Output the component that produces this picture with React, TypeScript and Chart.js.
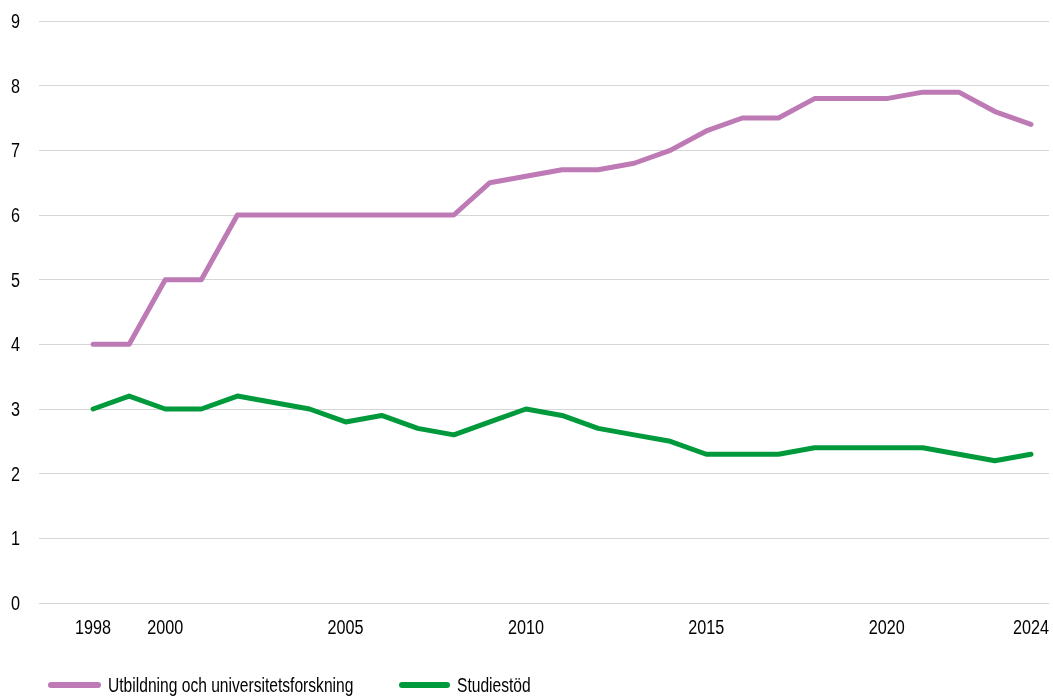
import React, { useEffect, useRef } from "react";
import { Chart, registerables } from "chart.js";

Chart.register(...registerables);

const years = [
  1998, 1999, 2000, 2001, 2002, 2003, 2004, 2005, 2006, 2007, 2008, 2009, 2010,
  2011, 2012, 2013, 2014, 2015, 2016, 2017, 2018, 2019, 2020, 2021, 2022, 2023, 2024,
];
const utbildning = [
  4, 4, 5, 5, 6, 6, 6, 6, 6, 6, 6, 6.5, 6.6, 6.7, 6.7, 6.8, 7.0, 7.3, 7.5, 7.5,
  7.8, 7.8, 7.8, 7.9, 7.9, 7.6, 7.4,
];
const studiestod = [
  3.0, 3.2, 3.0, 3.0, 3.2, 3.1, 3.0, 2.8, 2.9, 2.7, 2.6, 2.8, 3.0, 2.9, 2.7, 2.6,
  2.5, 2.3, 2.3, 2.3, 2.4, 2.4, 2.4, 2.4, 2.3, 2.2, 2.3,
];
const xTickYears = [1998, 2000, 2005, 2010, 2015, 2020, 2024];
const yTickValues = [0, 1, 2, 3, 4, 5, 6, 7, 8, 9];
const seriesNames = ["Utbildning och universitetsforskning", "Studiestöd"];
const seriesColors = ["#bd7ab5", "#009a3d"];

// Narrow look: Liberation Sans squeezed horizontally
const FONT = "'Liberation Sans', Arial, sans-serif";
const FONT_SIZE = 20;
const SQUEEZE = 0.81;
const LEGEND_SQUEEZE = 0.78;
const TEXT_COLOR = "#000000";

// Draws the axis labels in a condensed face
const narrowTicks = {
  id: "narrowTicks",
  afterDraw(chart: any) {
    const { ctx, scales, chartArea } = chart;
    ctx.save();
    ctx.fillStyle = TEXT_COLOR;
    ctx.font = `${FONT_SIZE}px ${FONT}`;
    ctx.textBaseline = "alphabetic";
    const capHalf = Math.round((FONT_SIZE * 0.716) / 2);
    // y axis
    ctx.textAlign = "right";
    for (const v of yTickValues) {
      const y = scales.y.getPixelForValue(v);
      ctx.save();
      ctx.translate(20, y + capHalf);
      ctx.scale(SQUEEZE, 1);
      ctx.fillText(String(v), 0, 0);
      ctx.restore();
    }
    // x axis
    ctx.textAlign = "center";
    for (const v of xTickYears) {
      const x = scales.x.getPixelForValue(v);
      ctx.save();
      ctx.translate(x, chartArea.bottom + 31);
      ctx.scale(SQUEEZE, 1);
      ctx.fillText(String(v), 0, 0);
      ctx.restore();
    }
    ctx.restore();
  },
};

export default function App() {
  const canvasRef = useRef<HTMLCanvasElement | null>(null);

  useEffect(() => {
    if (!canvasRef.current) return;
    const chart = new Chart(canvasRef.current, {
      type: "line",
      data: {
        datasets: [
          {
            label: seriesNames[0],
            data: years.map((y, i) => ({ x: y, y: utbildning[i] })),
            borderColor: seriesColors[0],
            backgroundColor: seriesColors[0],
            borderWidth: 5,
            pointRadius: 0,
            borderCapStyle: "round",
            borderJoinStyle: "round",
            tension: 0,
          },
          {
            label: seriesNames[1],
            data: years.map((y, i) => ({ x: y, y: studiestod[i] })),
            borderColor: seriesColors[1],
            backgroundColor: seriesColors[1],
            borderWidth: 5,
            pointRadius: 0,
            borderCapStyle: "round",
            borderJoinStyle: "round",
            tension: 0,
          },
        ],
      },
      options: {
        animation: false,
        responsive: false,
        maintainAspectRatio: false,
        layout: { padding: { top: 21, right: 4, bottom: 0, left: 0 } },
        plugins: {
          legend: { display: false },
          tooltip: { enabled: false },
        },
        scales: {
          x: {
            type: "linear",
            min: 1996.5,
            max: 2024.5,
            border: { display: false },
            grid: { display: false, drawTicks: false },
            afterFit: (scale: any) => {
              scale.height = 94;
              scale.paddingLeft = 0;
              scale.paddingRight = 0;
            },
            ticks: { display: false },
          },
          y: {
            min: 0,
            max: 9,
            border: { display: false },
            grid: { color: "#d6d6d6", lineWidth: 1, drawTicks: false },
            afterFit: (scale: any) => {
              scale.width = 39;
              scale.paddingTop = 0;
              scale.paddingBottom = 0;
            },
            ticks: { display: false, stepSize: 1 },
          },
        },
      },
      plugins: [narrowTicks],
    });
    return () => chart.destroy();
  }, []);

  const legendItem = (i: number, left: number, textLeft: number) => (
    <div key={i}>
      <span
        style={{
          position: "absolute",
          left,
          top: 682,
          width: textLeft - left - 7,
          height: 6,
          borderRadius: 3,
          background: seriesColors[i],
        }}
      />
      <span
        style={{
          position: "absolute",
          left: textLeft,
          top: 674,
          fontFamily: FONT,
          fontSize: FONT_SIZE,
          lineHeight: "23px",
          color: TEXT_COLOR,
          whiteSpace: "nowrap",
          transform: `scaleX(${LEGEND_SQUEEZE})`,
          transformOrigin: "left center",
        }}
      >
        {seriesNames[i]}
      </span>
    </div>
  );

  return (
    <div
      style={{
        position: "fixed",
        left: 0,
        top: 0,
        width: 1053,
        height: 697,
        background: "#fff",
        overflow: "hidden",
      }}
    >
      <canvas ref={canvasRef} width={1053} height={697} style={{ display: "block" }} />
      {legendItem(0, 48, 108)}
      {legendItem(1, 399, 457)}
    </div>
  );
}
